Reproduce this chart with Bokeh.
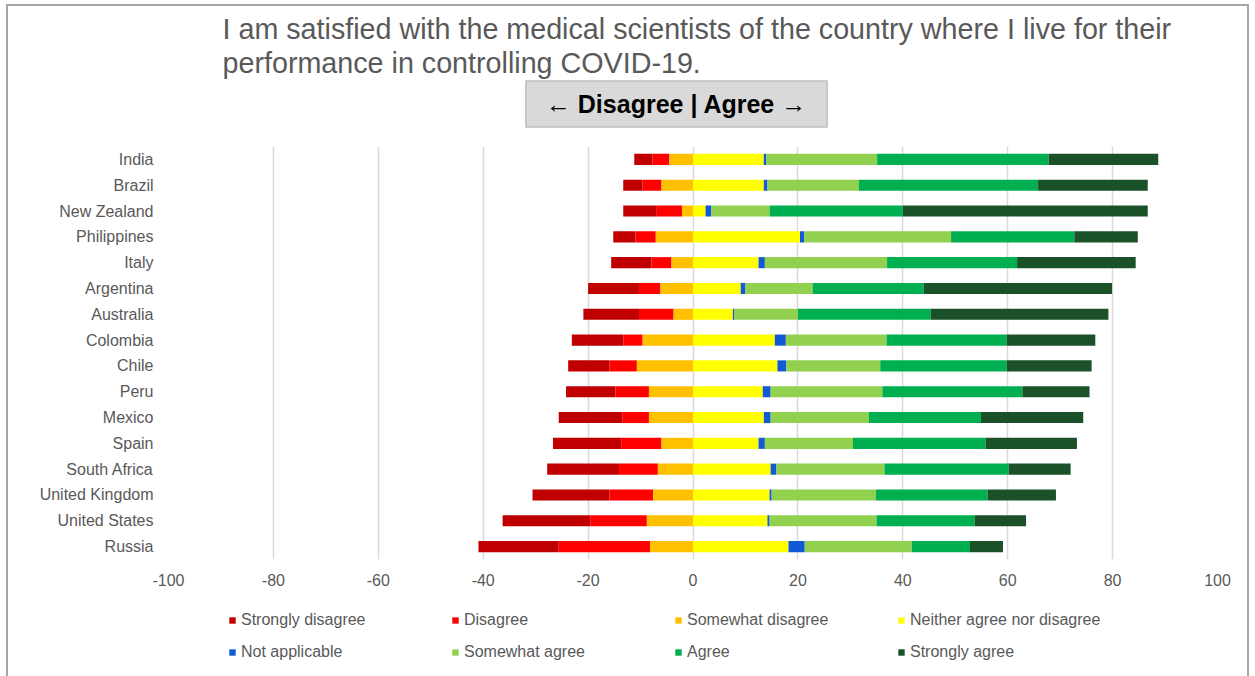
from bokeh.plotting import figure
from bokeh.layouts import column
from bokeh.models import (ColumnDataSource, FactorRange, Legend, LegendItem, Label,
                          FixedTicker)
from bokeh.embed import file_html
from bokeh.resources import INLINE

countries = ["India", "Brazil", "New Zealand", "Philippines", "Italy", "Argentina",
             "Australia", "Colombia", "Chile", "Peru", "Mexico", "Spain",
             "South Africa", "United Kingdom", "United States", "Russia"]

strongly_disagree = [3.5, 3.7, 6.4, 4.2, 7.7, 9.7, 10.6, 9.8, 7.9, 9.4, 12.1, 13.0, 13.7, 14.7, 16.7, 15.3]
disagree = [3.2, 3.6, 4.8, 3.9, 3.8, 4.1, 6.6, 3.7, 5.2, 6.4, 5.1, 7.7, 7.4, 8.3, 10.8, 17.4]
somewhat_disagree = [4.5, 6.0, 2.1, 7.1, 4.1, 6.2, 3.7, 9.6, 10.7, 8.4, 8.4, 6.0, 6.7, 7.6, 8.8, 8.2]
neither = [13.5, 13.5, 2.4, 20.4, 12.5, 9.1, 7.6, 15.6, 16.1, 13.3, 13.5, 12.5, 14.8, 14.6, 14.2, 18.2]
not_applicable = [0.5, 0.7, 1.1, 0.8, 1.2, 0.9, 0.3, 2.1, 1.7, 1.5, 1.3, 1.2, 1.1, 0.4, 0.4, 3.1]
somewhat_agree = [21.1, 17.4, 11.1, 28.0, 23.3, 12.8, 12.1, 19.2, 17.9, 21.3, 18.7, 16.8, 20.6, 19.9, 20.4, 20.4]
agree = [32.7, 34.2, 25.4, 23.5, 24.8, 21.2, 25.3, 22.9, 24.1, 26.7, 21.4, 25.3, 23.7, 21.3, 18.7, 11.1]
strongly_agree = [20.9, 20.9, 46.7, 12.1, 22.6, 35.9, 33.9, 16.9, 16.2, 12.8, 19.5, 17.4, 11.8, 13.0, 9.8, 6.3]

series_names = ["Strongly disagree", "Disagree", "Somewhat disagree",
                "Neither agree nor disagree", "Not applicable", "Somewhat agree",
                "Agree", "Strongly agree"]
colors = ["#C00000", "#FF0000", "#FFC000", "#FFFF00", "#1259D6", "#92D050",
          "#00B050", "#1B5129"]
x_ticks = [-100, -80, -60, -40, -20, 0, 20, 40, 60, 80, 100]

title_line1 = "I am satisfied with the medical scientists of the country where I live for their"
title_line2 = "performance in controlling COVID-19."
direction_text = "\u2190 Disagree | Agree \u2192"

FONT = "Liberation Sans"
GREY = "#595959"

W = 1255
H_TOP, H_MAIN, H_LEG = 146, 454, 76

# ---- header strip -------------------------------------------------------
top = figure(width=W, height=H_TOP, output_backend="svg", toolbar_location=None,
             x_axis_type=None, y_axis_type=None, min_border=0,
             x_range=(0, 1), y_range=(0, 1))
top.outline_line_color = None
top.background_fill_color = None
top.border_fill_color = None
top.grid.visible = False
top.add_layout(Label(x=54, y=H_TOP - 28, x_units="screen", y_units="screen",
                     text=title_line1, text_font=FONT, text_font_size="28.7px",
                     text_color=GREY, text_align="left", text_baseline="middle"))
top.add_layout(Label(x=54, y=H_TOP - 62, x_units="screen", y_units="screen",
                     text=title_line2, text_font=FONT, text_font_size="28.7px",
                     text_color=GREY, text_align="left", text_baseline="middle"))
top.add_layout(Label(x=508, y=H_TOP - 103.5, x_units="screen", y_units="screen",
                     text=direction_text, text_font=FONT, text_font_size="25px",
                     text_font_style="bold", text_color="black",
                     text_align="center", text_baseline="middle",
                     background_fill_color="#D9D9D9", border_line_color="#BFBFBF",
                     border_line_width=1.5, padding=(20, 9)))

# ---- main chart ---------------------------------------------------------
p = figure(width=W, height=H_MAIN, y_range=FactorRange(factors=countries[::-1]),
           x_range=(-100, 100), output_backend="svg", toolbar_location=None,
           title=None,
           min_border_left=168, min_border_right=38, min_border_top=0,
           min_border_bottom=41)

# stacked segments: disagree side outward from 0, agree side from 0
sources = {}
neg_series = [somewhat_disagree, disagree, strongly_disagree]
neg_idx = [2, 1, 0]
cum = [0.0] * len(countries)
for vals, idx in zip(neg_series, neg_idx):
    right = [-c for c in cum]
    left = [-(c + v) for c, v in zip(cum, vals)]
    cum = [c + v for c, v in zip(cum, vals)]
    sources[idx] = ColumnDataSource(dict(y=countries, left=left, right=right))

pos_series = [neither, not_applicable, somewhat_agree, agree, strongly_agree]
pos_idx = [3, 4, 5, 6, 7]
cum = [0.0] * len(countries)
for vals, idx in zip(pos_series, pos_idx):
    left = list(cum)
    cum = [c + v for c, v in zip(cum, vals)]
    sources[idx] = ColumnDataSource(dict(y=countries, left=left, right=list(cum)))

for idx in range(8):
    p.hbar(y="y", left="left", right="right", height=0.43, source=sources[idx],
           fill_color=colors[idx], line_color=None)

p.xaxis.ticker = FixedTicker(ticks=x_ticks)
p.xaxis.major_label_overrides = {t: str(t) for t in x_ticks}
for ax in (p.xaxis, p.yaxis):
    ax.axis_line_color = None
    ax.major_tick_line_color = None
    ax.minor_tick_line_color = None
    ax.major_tick_out = 0
    ax.major_tick_in = 0
    ax.minor_tick_out = 0
    ax.major_label_text_font = FONT
    ax.major_label_text_font_size = "16px"
    ax.major_label_text_color = GREY
p.xaxis.major_label_standoff = 14
p.yaxis.major_label_standoff = 15
p.xgrid.grid_line_color = "#D9D9D9"
p.xgrid.grid_line_width = 1.5
p.ygrid.grid_line_color = None
p.outline_line_color = None
p.border_fill_color = None

# ---- legend strip (its zero-height bars draw nothing) --------------------
leg = figure(width=W, height=H_LEG, output_backend="svg", toolbar_location=None,
             x_axis_type=None, y_axis_type=None, min_border=0,
             x_range=(-100, 100), y_range=FactorRange(factors=countries[::-1]))
leg.outline_line_color = None
leg.background_fill_color = None
leg.border_fill_color = None
items = []
for idx, name in enumerate(series_names):
    r = leg.hbar(y="y", left="left", right="right", height=0, source=sources[idx],
                 fill_color=colors[idx], line_color=None)
    items.append(LegendItem(label=name, renderers=[r]))
legend = Legend(items=items, orientation="horizontal", ncols=4,
                location=(60, 14), glyph_width=8, glyph_height=8,
                label_standoff=5, label_width=198, label_height=20, spacing=12,
                padding=0, margin=0, background_fill_alpha=0,
                border_line_color=None, label_text_font=FONT,
                label_text_font_size="16px", label_text_color=GREY)
leg.add_layout(legend, "center")

layout = column(top, p, leg, spacing=0)
layout.styles = {
    "box-shadow": ("inset 6px 0 0 #FFFFFF, inset 0 4px 0 #FFFFFF, inset -6px 0 0 #FFFFFF, "
                   "inset 8px 0 0 #A6A6A6, inset 0 6px 0 #A6A6A6, inset -8px 0 0 #A6A6A6"),
}

open("out.html", "w").write(file_html(layout, INLINE))
